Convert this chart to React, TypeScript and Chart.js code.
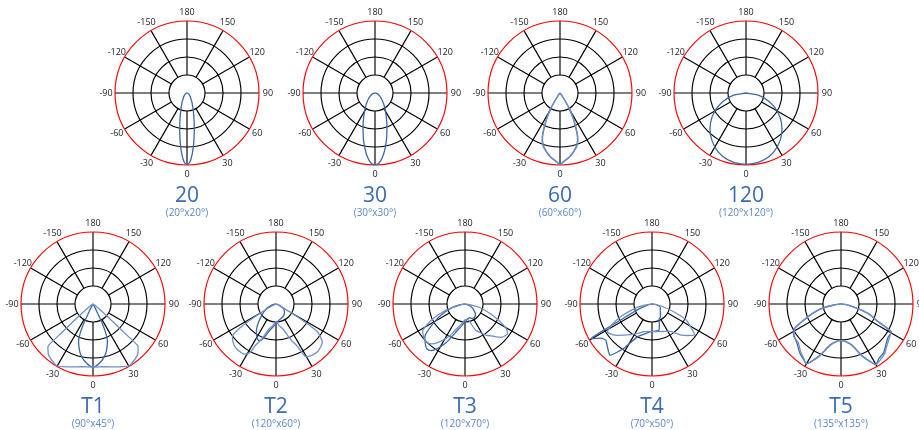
import React, { useEffect, useRef } from "react";
import { Chart, registerables } from "chart.js";

Chart.register(...registerables);

// ---- axis / grid definitions ----
const tickAngles = [180, 150, 120, 90, 60, 30, 0, -30, -60, -90, -120, -150];
const ringValues = [0.25, 0.5, 0.75, 1];

// ---- series data (angle in degrees, 0 = down; value normalised to outer ring) ----
const a20 = [-90, -75, -60, -45, -37.5, -30, -25, -20, -15, -12.5, -10, -7.5, -5, -2.5, 0, 2.5, 5, 7.5, 10, 12.5, 15, 20, 25, 30, 37.5, 45, 60, 75, 90];
const v20 = [0, 0.011, 0.027, 0.056, 0.082, 0.127, 0.176, 0.252, 0.377, 0.466, 0.578, 0.71, 0.846, 0.957, 0.995, 0.957, 0.846, 0.71, 0.578, 0.466, 0.377, 0.252, 0.176, 0.127, 0.082, 0.056, 0.027, 0.011, 0];

const a30 = [-90, -75, -60, -50, -40, -35, -30, -25, -20, -15, -12.5, -10, -7.5, -5, -2.5, 0, 2.5, 5, 7.5, 10, 12.5, 15, 20, 25, 30, 35, 40, 50, 60, 75, 90];
const v30 = [0, 0.031, 0.071, 0.113, 0.178, 0.226, 0.289, 0.373, 0.485, 0.629, 0.71, 0.793, 0.873, 0.939, 0.985, 0.995, 0.985, 0.939, 0.873, 0.793, 0.71, 0.629, 0.485, 0.373, 0.289, 0.226, 0.178, 0.113, 0.071, 0.031, 0];

const a60 = [-90, -50, -40, -35, -33, -31, -27.5, -25, -21.7, -17.6, -11.6, -8, -4, 0, 4, 8, 11.6, 17.6, 21.7, 25, 27.5, 31, 33, 35, 40, 50, 90];
const v60a = [0, 0.005, 0.02, 0.05, 0.12, 0.243, 0.39, 0.5, 0.658, 0.767, 0.855, 0.9, 0.94, 0.99, 0.94, 0.9, 0.855, 0.767, 0.658, 0.5, 0.39, 0.243, 0.12, 0.05, 0.02, 0.005, 0];
const v60b = [0, 0.005, 0.02, 0.06, 0.13, 0.25, 0.4, 0.52, 0.67, 0.775, 0.86, 0.905, 0.945, 0.99, 0.945, 0.905, 0.86, 0.775, 0.67, 0.52, 0.4, 0.25, 0.13, 0.06, 0.02, 0.005, 0];

const a120 = [-90, -80, -70, -60, -50, -40, -30, -20, -10, 0, 10, 20, 30, 40, 50, 60, 70, 80, 90];
const v120 = [0, 0.174, 0.342, 0.5, 0.643, 0.766, 0.866, 0.94, 0.98, 0.99, 0.98, 0.94, 0.866, 0.766, 0.643, 0.5, 0.342, 0.174, 0];

const aT1n = [-90, -40, -30, -27, -25.5, -24, -21.7, -18, -14.4, -10, -5.8, -3, 0, 3, 5.8, 10, 14.4, 18, 21.7, 24, 25.5, 27, 30, 40, 90];
const vT1n = [0, 0.005, 0.03, 0.12, 0.3, 0.42, 0.54, 0.63, 0.71, 0.78, 0.83, 0.86, 0.88, 0.86, 0.83, 0.78, 0.71, 0.63, 0.54, 0.42, 0.3, 0.12, 0.03, 0.005, 0];
const aT1w = [-90, -60, -52, -49, -47.5, -47, -44, -41, -36, -30.5, -25, -20, -10, 0, 10, 20, 25, 30.5, 36, 41, 44, 47, 47.5, 49, 52, 60, 90];
const vT1w = [0, 0.02, 0.08, 0.3, 0.6, 0.85, 0.9, 0.94, 0.97, 0.995, 0.96, 0.93, 0.885, 0.875, 0.885, 0.93, 0.96, 0.995, 0.97, 0.94, 0.9, 0.85, 0.6, 0.3, 0.08, 0.02, 0];

const aT2d = [-90, -75, -65, -52, -40, -32, -26, -22, -18, -13, -6, 0, 10, 21.7, 36, 54, 67, 80, 90];
const vT2d = [0, 0.06, 0.14, 0.25, 0.41, 0.51, 0.56, 0.54, 0.46, 0.37, 0.31, 0.27, 0.23, 0.21, 0.19, 0.14, 0.07, 0.02, 0];
const aT2l = [-90, -70, -63, -60, -57, -54, -48, -41.6, -35, -31.8, -28.2, -26.6, -22.6, -15.6, -8, 0, 8, 15.6, 22.6, 26.6, 28.2, 29.5, 35, 41, 46, 50, 53, 56, 58, 60, 63, 70, 90];
const vT2l = [0, 0.02, 0.08, 0.25, 0.55, 0.74, 0.8, 0.83, 0.83, 0.82, 0.77, 0.65, 0.54, 0.36, 0.3, 0.245, 0.3, 0.36, 0.54, 0.65, 0.77, 0.84, 0.87, 0.88, 0.86, 0.84, 0.78, 0.7, 0.5, 0.25, 0.08, 0.02, 0];

const aT3l = [-90, -80, -75, -72, -65, -58, -50, -44, -38, -33, -26, -20, -10, 0, 10, 14, 22, 30, 34, 40, 48, 55, 60, 68, 77, 85, 90];
const vT3l = [0, 0.05, 0.15, 0.28, 0.5, 0.69, 0.74, 0.75, 0.7, 0.62, 0.5, 0.38, 0.28, 0.22, 0.22, 0.24, 0.39, 0.47, 0.52, 0.58, 0.69, 0.72, 0.65, 0.41, 0.2, 0.05, 0];
const aT3d = [-90, -80, -75, -68, -61, -52, -45, -40, -36, -32, -26, -16, -8, 0, 9, 17, 25, 32, 44, 55, 70, 90];
const vT3d = [0, 0.08, 0.18, 0.3, 0.46, 0.7, 0.78, 0.82, 0.8, 0.73, 0.6, 0.38, 0.3, 0.25, 0.21, 0.2, 0.22, 0.23, 0.21, 0.15, 0.08, 0];

const aT4l = [-90, -80, -77, -68, -62, -58, -53, -48, -35, -25, -16, 0, 17, 25, 34, 43, 50, 54, 58, 65, 72, 80, 90];
const vT4l = [0, 0.1, 0.21, 0.47, 0.65, 0.73, 0.7, 0.65, 0.52, 0.45, 0.4, 0.385, 0.4, 0.42, 0.46, 0.59, 0.68, 0.73, 0.65, 0.52, 0.27, 0.08, 0];
const aT4d = [-90, -80, -68, -63, -61.5, -60.5, -56, -52, -46, -39.5, -35, -31.6, -24, -12, -3, 8, 15, 20, 24, 34, 50, 71, 85, 90];
const vT4d = [0, 0.05, 0.22, 0.49, 0.76, 0.97, 0.85, 0.815, 0.86, 0.92, 0.8, 0.7, 0.5, 0.42, 0.385, 0.38, 0.375, 0.3, 0.24, 0.21, 0.15, 0.12, 0.04, 0];

const aT5 = [-90, -82, -76, -68, -62, -58, -55, -48, -40, -34, -30, -26, -22, -15, -8, 0, 8, 15, 22, 26, 30, 35, 41, 48, 55, 61, 65, 70, 74, 82, 90];
const vT5d = [0, 0.1, 0.31, 0.52, 0.74, 0.78, 0.79, 0.82, 0.89, 0.93, 0.96, 0.86, 0.76, 0.59, 0.53, 0.51, 0.53, 0.59, 0.77, 0.87, 0.97, 0.92, 0.9, 0.84, 0.8, 0.8, 0.55, 0.42, 0.27, 0.1, 0];
const vT5l = [0, 0.1, 0.3, 0.51, 0.73, 0.77, 0.8, 0.8, 0.87, 0.92, 0.96, 0.87, 0.77, 0.6, 0.53, 0.51, 0.53, 0.6, 0.78, 0.88, 0.97, 0.95, 0.92, 0.86, 0.82, 0.79, 0.56, 0.43, 0.28, 0.1, 0];

// ---- chart titles ----
const titles = ["20", "30", "60", "120", "T1", "T2", "T3", "T4", "T5"];
const subtitles = ["(20°x20°)", "(30°x30°)", "(60°x60°)", "(120°x120°)", "(90°x45°)", "(120°x60°)", "(120°x70°)", "(70°x50°)", "(135°x135°)"];

const DARK = "#3d68a6";
const LIGHT = "#6f8fcb";
const SIZE = 190;
const RPX = 72;

type Series = { ang: number[]; val: number[]; color: string; tension: number };

const toXY = (ang: number[], val: number[]) =>
  ang.map((a, i) => ({
    x: val[i] * Math.sin((a * Math.PI) / 180),
    y: -val[i] * Math.cos((a * Math.PI) / 180),
  }));

const polarGrid = {
  id: "polarGrid",
  beforeDatasetsDraw(chart: any) {
    const { ctx } = chart;
    const x = chart.scales.x;
    const y = chart.scales.y;
    const cx = x.getPixelForValue(0);
    const cy = y.getPixelForValue(0);
    const unit = x.getPixelForValue(1) - cx;
    ctx.save();
    ctx.lineWidth = 1.15;
    ctx.strokeStyle = "#000";
    for (const a of tickAngles) {
      const rad = (a * Math.PI) / 180;
      const dx = Math.sin(rad);
      const dy = Math.cos(rad);
      ctx.beginPath();
      ctx.moveTo(cx + dx * ringValues[0] * unit, cy + dy * ringValues[0] * unit);
      ctx.lineTo(cx + dx * unit, cy + dy * unit);
      ctx.stroke();
    }
    ringValues.forEach((r, i) => {
      ctx.beginPath();
      ctx.strokeStyle = i === ringValues.length - 1 ? "#ff0000" : "#000";
      ctx.arc(cx, cy, r * unit, 0, Math.PI * 2);
      ctx.stroke();
    });
    ctx.fillStyle = "#222";
    ctx.font = '9px "Open Sans", sans-serif';
    ctx.textAlign = "center";
    ctx.textBaseline = "middle";
    for (const a of tickAngles) {
      const rad = (a * Math.PI) / 180;
      const rr = 1.125 * unit;
      ctx.fillText(String(a), cx + Math.sin(rad) * rr, cy + Math.cos(rad) * rr);
    }
    ctx.restore();
  },
};

function PolarChart({ cx, cy, series, title, sub }: { cx: number; cy: number; series: Series[]; title: string; sub: string }) {
  const ref = useRef<HTMLCanvasElement>(null);
  useEffect(() => {
    if (!ref.current) return;
    const L = SIZE / 2 / RPX;
    const chart = new Chart(ref.current, {
      type: "scatter",
      data: {
        datasets: series.map((s) => ({
          data: toXY(s.ang, s.val),
          showLine: true,
          borderColor: s.color,
          backgroundColor: s.color,
          borderWidth: 1.3,
          pointRadius: 0,
          tension: s.tension,
          fill: false,
          clip: false as any,
        })),
      },
      options: {
        responsive: false,
        maintainAspectRatio: false,
        animation: false,
        events: [],
        layout: { padding: 0 },
        plugins: { legend: { display: false }, tooltip: { enabled: false } },
        scales: {
          x: { type: "linear", min: -L, max: L, display: false },
          y: { type: "linear", min: -L, max: L, display: false },
        },
      },
      plugins: [polarGrid],
    } as any);
    return () => chart.destroy();
  }, []);
  return (
    <>
      <canvas
        ref={ref}
        width={SIZE}
        height={SIZE}
        style={{ position: "absolute", left: cx - SIZE / 2, top: cy - SIZE / 2, width: SIZE, height: SIZE }}
      />
      <div
        style={{
          position: "absolute",
          left: cx - 70,
          width: 140,
          top: cy + 101 - 13,
          height: 26,
          lineHeight: "26px",
          textAlign: "center",
          fontFamily: '"Open Sans", sans-serif',
          fontSize: 21,
          color: "#3a6bb5",
        }}
      >
        {title}
      </div>
      <div
        style={{
          position: "absolute",
          left: cx - 70,
          width: 140,
          top: cy + 119 - 7,
          height: 14,
          lineHeight: "14px",
          textAlign: "center",
          fontFamily: '"Open Sans", sans-serif',
          fontSize: 10,
          color: "#5b86cc",
        }}
      >
        {sub}
      </div>
    </>
  );
}

export default function App() {
  const charts = [
    { cx: 187, cy: 93, series: [{ ang: a20, val: v20, color: DARK, tension: 0.3 }] },
    { cx: 375, cy: 93, series: [{ ang: a30, val: v30, color: DARK, tension: 0.3 }] },
    { cx: 560, cy: 93, series: [{ ang: a60, val: v60b, color: LIGHT, tension: 0.3 }, { ang: a60, val: v60a, color: DARK, tension: 0.3 }] },
    { cx: 746, cy: 93, series: [{ ang: a120, val: v120, color: DARK, tension: 0.3 }] },
    { cx: 93, cy: 304, series: [{ ang: aT1w, val: vT1w, color: LIGHT, tension: 0.2 }, { ang: aT1n, val: vT1n, color: DARK, tension: 0.3 }] },
    { cx: 276, cy: 304, series: [{ ang: aT2l, val: vT2l, color: LIGHT, tension: 0.2 }, { ang: aT2d, val: vT2d, color: DARK, tension: 0.2 }] },
    { cx: 465, cy: 304, series: [{ ang: aT3l, val: vT3l, color: LIGHT, tension: 0.2 }, { ang: aT3d, val: vT3d, color: DARK, tension: 0.2 }] },
    { cx: 652, cy: 304, series: [{ ang: aT4l, val: vT4l, color: LIGHT, tension: 0.2 }, { ang: aT4d, val: vT4d, color: DARK, tension: 0.15 }] },
    { cx: 841, cy: 304, series: [{ ang: aT5, val: vT5l, color: LIGHT, tension: 0.2 }, { ang: aT5, val: vT5d, color: DARK, tension: 0.2 }] },
  ];
  return (
    <div style={{ position: "fixed", left: 0, top: 0, width: 919, height: 430, overflow: "hidden", background: "#fff" }}>
      {charts.map((c, i) => (
        <PolarChart key={i} cx={c.cx} cy={c.cy} series={c.series} title={titles[i]} sub={subtitles[i]} />
      ))}
    </div>
  );
}
